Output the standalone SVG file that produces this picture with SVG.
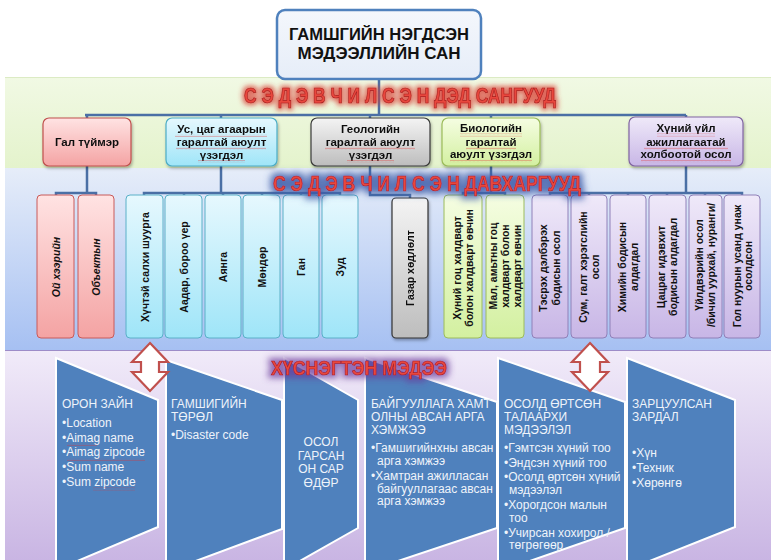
<svg xmlns="http://www.w3.org/2000/svg" width="771" height="560" viewBox="0 0 771 560">
<style>
.l1{font-family:"Liberation Sans",Arial,sans-serif;font-size:11.5px;font-weight:bold;fill:#111;text-anchor:middle}
.vt{font-family:"Liberation Sans",Arial,sans-serif;font-size:10.5px;font-weight:bold;fill:#111;text-anchor:middle}
.it{font-style:italic}
.ct{font-family:"Liberation Sans",Arial,sans-serif;font-size:12px;fill:#eef3fa}
.big{font-family:"Liberation Sans",Arial,sans-serif;font-weight:bold;fill:#e8463c;stroke:#a82020;stroke-width:0.7;text-anchor:middle}
.chev{fill:#4f81bd;stroke:#ffffff;stroke-width:2}
.arr{fill:#ffffff;stroke:#c0504d;stroke-width:2.2;stroke-linejoin:miter}
.sq{fill:url(#squig)}
</style>
<defs>
<linearGradient id="band1" x1="0" y1="0" x2="0" y2="1"><stop offset="0" stop-color="#f1f9e4"/><stop offset="1" stop-color="#e4f3cc"/></linearGradient>
<linearGradient id="band2" x1="0" y1="0" x2="0" y2="1"><stop offset="0" stop-color="#e6edf9"/><stop offset="1" stop-color="#a6c0f2"/></linearGradient>
<linearGradient id="band3" x1="0" y1="0" x2="0" y2="1"><stop offset="0" stop-color="#f1ebf9"/><stop offset="1" stop-color="#c9b5e3"/></linearGradient>
<linearGradient id="gPink" x1="0" y1="0" x2="0" y2="1"><stop offset="0" stop-color="#ffe3e3"/><stop offset="1" stop-color="#f4a3a3"/></linearGradient>
<linearGradient id="gBlue" x1="0" y1="0" x2="0" y2="1"><stop offset="0" stop-color="#e6f8fe"/><stop offset="1" stop-color="#9fe5f8"/></linearGradient>
<linearGradient id="gGray" x1="0" y1="0" x2="0" y2="1"><stop offset="0" stop-color="#f4f4f4"/><stop offset="1" stop-color="#bdbdbd"/></linearGradient>
<linearGradient id="gGreen" x1="0" y1="0" x2="0" y2="1"><stop offset="0" stop-color="#f5fde2"/><stop offset="1" stop-color="#d3f0a0"/></linearGradient>
<linearGradient id="gPurple" x1="0" y1="0" x2="0" y2="1"><stop offset="0" stop-color="#efe9f9"/><stop offset="1" stop-color="#c8b6e6"/></linearGradient>
<linearGradient id="gTitle" x1="0" y1="0" x2="0" y2="1"><stop offset="0" stop-color="#f4f7fc"/><stop offset="1" stop-color="#e6edf8"/></linearGradient>
<filter id="shadow" x="-20%" y="-20%" width="140%" height="150%"><feDropShadow dx="1" dy="2" stdDeviation="1.5" flood-color="#000" flood-opacity="0.3"/></filter>
<filter id="glowRed" x="-10%" y="-50%" width="120%" height="200%">
<feMorphology in="SourceAlpha" operator="dilate" radius="2" result="d"/>
<feGaussianBlur in="d" stdDeviation="2.5" result="b"/>
<feFlood flood-color="#d83a30" flood-opacity="0.75"/>
<feComposite in2="b" operator="in" result="g"/>
<feMerge><feMergeNode in="g"/><feMergeNode in="SourceGraphic"/></feMerge>
</filter>
<filter id="glowBlue" x="-10%" y="-60%" width="120%" height="220%">
<feMorphology in="SourceAlpha" operator="dilate" radius="3" result="d"/>
<feGaussianBlur in="d" stdDeviation="3.5" result="b"/>
<feFlood flood-color="#3a5aa8" flood-opacity="0.85"/>
<feComposite in2="b" operator="in" result="g"/>
<feMerge><feMergeNode in="g"/><feMergeNode in="SourceGraphic"/></feMerge>
</filter>
<filter id="glowPurple" x="-10%" y="-60%" width="120%" height="220%">
<feMorphology in="SourceAlpha" operator="dilate" radius="3" result="d"/>
<feGaussianBlur in="d" stdDeviation="3" result="b"/>
<feFlood flood-color="#6a3a9a" flood-opacity="0.7"/>
<feComposite in2="b" operator="in" result="g"/>
<feMerge><feMergeNode in="g"/><feMergeNode in="SourceGraphic"/></feMerge>
</filter>
<pattern id="squig" width="4" height="3" patternUnits="userSpaceOnUse">
<path d="M0,2.2 L1,0.8 L2,2.2 L3,0.8 L4,2.2" fill="none" stroke="#e03030" stroke-width="0.45" stroke-opacity="0.75"/>
</pattern>
</defs>

<rect x="0" y="0" width="771" height="560" fill="#ffffff"/>
<g id="bands">
<rect x="5" y="77" width="766" height="91" fill="url(#band1)"/>
<line x1="5" y1="77.5" x2="771" y2="77.5" stroke="#dcebc4" stroke-width="1"/>
<rect x="5" y="168" width="766" height="182" fill="url(#band2)"/>
<rect x="5" y="350" width="766" height="210" fill="url(#band3)"/>
<line x1="5" y1="350.5" x2="771" y2="350.5" stroke="#9d8cc8" stroke-width="1"/>
</g>

<g id="connectors" fill="none" stroke="#4a6fa5" stroke-width="2.5">
<path d="M379,79 V115 M85,115 H686 M87,115 V118 M221,115 V118 M370,115 V118 M491,115 V118 M686,115 V117"/>
<path d="M87,166 V193 M56,195 V193 H96 V195"/>
<path d="M221,166 V193 M144,195 V193 H340 V195 M184,193 V195 M223,193 V195 M262,193 V195 M301,193 V195"/>
<path d="M370,166 V195 H410 V198"/>
<path d="M491,166 V193 M463,195 V193 H505 V195"/>
<path d="M686,166 V193 M550,195 V193 H742 V195 M589,193 V195 M628,193 V195 M667,193 V195 M705,193 V195"/>
</g>

<g id="title">
<rect x="277" y="10" width="204" height="69" rx="8" fill="url(#gTitle)" stroke="#4f81bd" stroke-width="2.5"/>
<text x="379" y="40" text-anchor="middle" font-family="Liberation Sans, Arial, sans-serif" font-size="16" font-weight="bold" fill="#111" textLength="180" lengthAdjust="spacingAndGlyphs">ГАМШГИЙН НЭГДСЭН</text>
<text x="379" y="59" text-anchor="middle" font-family="Liberation Sans, Arial, sans-serif" font-size="16" font-weight="bold" fill="#111" textLength="163" lengthAdjust="spacingAndGlyphs">МЭДЭЭЛЛИЙН САН</text>
</g>

<g id="fire" filter="url(#shadow)">
<rect x="43" y="118" width="88" height="48" rx="6" fill="url(#gPink)" stroke="#c0504d" stroke-width="1.2"/>
<text class="l1" x="87" y="146">Гал түймэр</text>
</g>
<g id="weather" filter="url(#shadow)">
<rect x="166" y="118" width="111" height="48" rx="6" fill="url(#gBlue)" stroke="#4bacc6" stroke-width="1.2"/>
<text class="l1" x="221.5" y="132.5">Ус, цаг агаарын</text>
<text class="l1" x="221.5" y="145.5">гаралтай аюулт</text>
<text class="l1" x="221.5" y="158.5">үзэгдэл</text>
<rect class="sq" x="175" y="134" width="92" height="3"/>
<rect class="sq" x="176" y="147" width="90" height="3"/>
<rect class="sq" x="198" y="160" width="47" height="3"/>
</g>
<g id="geology" filter="url(#shadow)">
<rect x="311" y="118" width="119" height="48" rx="6" fill="url(#gGray)" stroke="#3a3a3a" stroke-width="1.2"/>
<text class="l1" x="370.5" y="132.5">Геологийн</text>
<text class="l1" x="370.5" y="145.5">гаралтай аюулт</text>
<text class="l1" x="370.5" y="158.5">үзэгдэл</text>
<rect class="sq" x="325" y="147" width="90" height="3"/>
<rect class="sq" x="347" y="160" width="47" height="3"/>
</g>
<g id="biology" filter="url(#shadow)">
<rect x="442" y="118" width="98" height="48" rx="6" fill="url(#gGreen)" stroke="#9bbb59" stroke-width="1.2"/>
<text class="l1" x="491" y="132">Биологийн</text>
<text class="l1" x="491" y="145.5">гаралтай</text>
<text class="l1" x="491" y="158">аюулт үзэгдэл</text>
<rect class="sq" x="460" y="133.5" width="62" height="3"/>
<rect class="sq" x="466" y="147" width="50" height="3"/>
<rect class="sq" x="450" y="159.5" width="82" height="3"/>
</g>
<g id="human" filter="url(#shadow)">
<rect x="629" y="117" width="114" height="49" rx="6" fill="url(#gPurple)" stroke="#8064a2" stroke-width="1.2"/>
<text class="l1" x="686" y="132">Хүний үйл</text>
<text class="l1" x="686" y="145.5">ажиллагаатай</text>
<text class="l1" x="686" y="158">холбоотой осол</text>
<rect class="sq" x="657" y="133.5" width="58" height="3"/>
<rect class="sq" x="644" y="147" width="84" height="3"/>
<rect class="sq" x="641" y="159.5" width="90" height="3"/>
</g>

<g id="fire-forest"><rect x="37" y="195" width="37" height="143" rx="4" fill="url(#gPink)" stroke="#c85a5a" stroke-width="1"/>
<text class="vt it" transform="translate(55.5,267) rotate(-90)" x="0" y="4">Ой хээрийн</text></g>
<g id="fire-object"><rect x="78" y="195" width="36" height="143" rx="4" fill="url(#gPink)" stroke="#c85a5a" stroke-width="1"/>
<text class="vt it" transform="translate(96,267) rotate(-90)" x="0" y="4">Объектын</text></g>

<g id="w-storm"><rect x="126" y="195" width="37" height="143" rx="4" fill="url(#gBlue)" stroke="#5ab0c8" stroke-width="1"/>
<text class="vt" transform="translate(144.5,267) rotate(-90)" x="0" y="4">Хүчтэй салхи шуурга</text></g>
<g id="w-flood"><rect x="165" y="195" width="37" height="143" rx="4" fill="url(#gBlue)" stroke="#5ab0c8" stroke-width="1"/>
<text class="vt" transform="translate(183.5,267) rotate(-90)" x="0" y="4">Аадар, бороо үер</text></g>
<g id="w-lightning"><rect x="205" y="195" width="36" height="143" rx="4" fill="url(#gBlue)" stroke="#5ab0c8" stroke-width="1"/>
<text class="vt" transform="translate(223,267) rotate(-90)" x="0" y="4">Аянга</text></g>
<g id="w-hail"><rect x="243" y="195" width="37" height="143" rx="4" fill="url(#gBlue)" stroke="#5ab0c8" stroke-width="1"/>
<text class="vt" transform="translate(261.5,267) rotate(-90)" x="0" y="4">Мөндөр</text></g>
<g id="w-drought"><rect x="283" y="195" width="36" height="143" rx="4" fill="url(#gBlue)" stroke="#5ab0c8" stroke-width="1"/>
<text class="vt" transform="translate(301,267) rotate(-90)" x="0" y="4">Ган</text></g>
<g id="w-zud"><rect x="322" y="195" width="36" height="143" rx="4" fill="url(#gBlue)" stroke="#5ab0c8" stroke-width="1"/>
<text class="vt" transform="translate(340,267) rotate(-90)" x="0" y="4">Зуд</text></g>

<g id="g-quake" filter="url(#shadow)"><rect x="392" y="198" width="36" height="140" rx="4" fill="url(#gGray)" stroke="#333" stroke-width="1.2"/>
<text class="vt" transform="translate(410,268) rotate(-90)" x="0" y="4">Газар хөдлөлт</text></g>

<g id="b-human"><rect x="444" y="195" width="38" height="143" rx="4" fill="url(#gGreen)" stroke="#9cbc5c" stroke-width="1"/>
<text class="vt" transform="translate(463,268) rotate(-90)"><tspan x="0" y="-2.5">Хүний гоц халдварт</tspan><tspan x="0" y="9.5">болон халдварт өвчин</tspan></text></g>
<g id="b-animal"><rect x="486" y="195" width="38" height="143" rx="4" fill="url(#gGreen)" stroke="#9cbc5c" stroke-width="1"/>
<text class="vt" transform="translate(505,266) rotate(-90)"><tspan x="0" y="-8.5">Мал, амьтны гоц</tspan><tspan x="0" y="3.5">халдварт болон</tspan><tspan x="0" y="15.5">халдварт өвчин</tspan></text></g>

<g id="h-explosive"><rect x="532" y="195" width="36" height="143" rx="4" fill="url(#gPurple)" stroke="#9080b8" stroke-width="1"/>
<text class="vt" transform="translate(550,268) rotate(-90)"><tspan x="0" y="-3">Тэсрэх дэлбэрэх</tspan><tspan x="0" y="10">бодисын осол</tspan></text></g>
<g id="h-ammo"><rect x="571" y="195" width="36" height="143" rx="4" fill="url(#gPurple)" stroke="#9080b8" stroke-width="1"/>
<text class="vt" transform="translate(589,267) rotate(-90)"><tspan x="0" y="-2.5">Сум, галт хэрэгслийн</tspan><tspan x="0" y="9.5">осол</tspan></text></g>
<g id="h-chemical"><rect x="610" y="195" width="36" height="143" rx="4" fill="url(#gPurple)" stroke="#9080b8" stroke-width="1"/>
<text class="vt" transform="translate(628,267) rotate(-90)"><tspan x="0" y="-2.5">Химийн бодисын</tspan><tspan x="0" y="9.5">алдагдал</tspan></text></g>
<g id="h-radiation"><rect x="649" y="195" width="37" height="143" rx="4" fill="url(#gPurple)" stroke="#9080b8" stroke-width="1"/>
<text class="vt" transform="translate(667.5,267) rotate(-90)"><tspan x="0" y="-2.5">Цацраг идэвхит</tspan><tspan x="0" y="9.5">бодисын алдагдал</tspan></text></g>
<g id="h-industrial"><rect x="689" y="195" width="33" height="143" rx="4" fill="url(#gPurple)" stroke="#9080b8" stroke-width="1"/>
<text class="vt" transform="translate(705.5,265) rotate(-90)"><tspan x="0" y="-2.5">Үйлдвэрийн осол</tspan><tspan x="0" y="9.5">/бичил уурхай, нуранги/</tspan></text></g>
<g id="h-drowning"><rect x="724" y="195" width="36" height="143" rx="4" fill="url(#gPurple)" stroke="#9080b8" stroke-width="1"/>
<text class="vt" transform="translate(742,266) rotate(-90)"><tspan x="0" y="-1.5">Гол нуурын усанд унаж</tspan><tspan x="0" y="10">осолдсон</tspan></text></g>

<g id="c-location">
<path class="chev" d="M56,358 L158,400 L158,527 L56,570 Z"/>
<text class="ct" x="62" y="408">ОРОН ЗАЙН</text>
<text class="ct" x="62" y="427">•Location</text>
<text class="ct" x="62" y="441.5">•Aimag name</text>
<text class="ct" x="62" y="456">•Aimag zipcode</text>
<text class="ct" x="62" y="471">•Sum name</text>
<text class="ct" x="62" y="486">•Sum zipcode</text>
<rect class="sq" x="67" y="443" width="30" height="3"/>
<rect class="sq" x="67" y="458" width="78" height="3"/>
<rect class="sq" x="93" y="487.5" width="42" height="3"/>
</g>
<g id="c-type">
<path class="chev" d="M166,360 L282,400 L282,529 L166,572 Z"/>
<text class="ct" x="171" y="408">ГАМШИГИЙН</text>
<text class="ct" x="171" y="421">ТӨРӨЛ</text>
<text class="ct" x="171" y="439">•Disaster code</text>
</g>
<g id="c-date">
<path class="chev" d="M284,358 L358,400 L358,528 L284,570 Z"/>
<text class="ct" x="321" y="446" text-anchor="middle">ОСОЛ</text>
<text class="ct" x="321" y="459.5" text-anchor="middle">ГАРСАН</text>
<text class="ct" x="321" y="473" text-anchor="middle">ОН САР</text>
<text class="ct" x="321" y="486.5" text-anchor="middle">ӨДӨР</text>
</g>
<g id="c-measures">
<path class="chev" d="M365,358 L497,402 L497,528 L365,572 Z"/>
<text class="ct" x="371" y="408">БАЙГУУЛЛАГА ХАМТ</text>
<text class="ct" x="371" y="421">ОЛНЫ АВСАН АРГА</text>
<text class="ct" x="371" y="433.5">ХЭМЖЭЭ</text>
<text class="ct" x="371" y="452">•Гамшигийнхны авсан</text>
<text class="ct" x="377" y="465">арга хэмжээ</text>
<text class="ct" x="371" y="480">•Хамтран ажилласан</text>
<text class="ct" x="377" y="492.5">байгууллагаас авсан</text>
<text class="ct" x="377" y="505">арга хэмжээ</text>
</g>
<g id="c-victims">
<path class="chev" d="M498,358 L625,402 L625,528 L498,572 Z"/>
<text class="ct" x="504" y="408">ОСОЛД ӨРТСӨН</text>
<text class="ct" x="504" y="421">ТАЛААРХИ</text>
<text class="ct" x="504" y="433.5">МЭДЭЭЛЭЛ</text>
<text class="ct" x="504" y="452">•Гэмтсэн хүний тоо</text>
<text class="ct" x="504" y="466.5">•Эндсэн хүний тоо</text>
<text class="ct" x="504" y="481">•Осолд өртсөн хүний</text>
<text class="ct" x="509" y="494">мэдээлэл</text>
<text class="ct" x="504" y="509">•Хорогдсон малын</text>
<text class="ct" x="509" y="522">тоо</text>
<text class="ct" x="504" y="536.5">•Учирсан хохирол /</text>
<text class="ct" x="509" y="549">төгрөгөөр</text>
</g>
<g id="c-cost">
<path class="chev" d="M627,358 L735,400 L735,527 L627,570 Z"/>
<text class="ct" x="632" y="408">ЗАРЦУУЛСАН</text>
<text class="ct" x="632" y="421">ЗАРДАЛ</text>
<text class="ct" x="632" y="457">•Хүн</text>
<text class="ct" x="632" y="471.5">•Техник</text>
<text class="ct" x="632" y="487">•Хөрөнгө</text>
</g>

<g id="arrow-left"><path class="arr" d="M150,343 L168,362 L159,362 L159,372 L168,372 L150,391 L132,372 L141,372 L141,362 L132,362 Z"/></g>
<g id="arrow-right"><path class="arr" d="M590,343 L608,362 L600,362 L600,372 L608,372 L590,391 L572,372 L580,372 L580,362 L572,362 Z"/></g>

<g id="heading-1" filter="url(#glowRed)"><text class="big" x="400" y="103" font-size="22" textLength="312" lengthAdjust="spacingAndGlyphs">С Э Д Э В Ч И Л С Э Н ДЭД САНГУУД</text></g>
<g id="heading-2" filter="url(#glowBlue)"><text class="big" x="427" y="191" font-size="22" textLength="308" lengthAdjust="spacingAndGlyphs">С Э Д Э В Ч И Л С Э Н ДАВХАРГУУД</text></g>
<g id="heading-3" filter="url(#glowPurple)"><text class="big" x="359" y="375" font-size="20" textLength="176" lengthAdjust="spacingAndGlyphs">ХҮСНЭГТЭН МЭДЭЭ</text></g>
</svg>
